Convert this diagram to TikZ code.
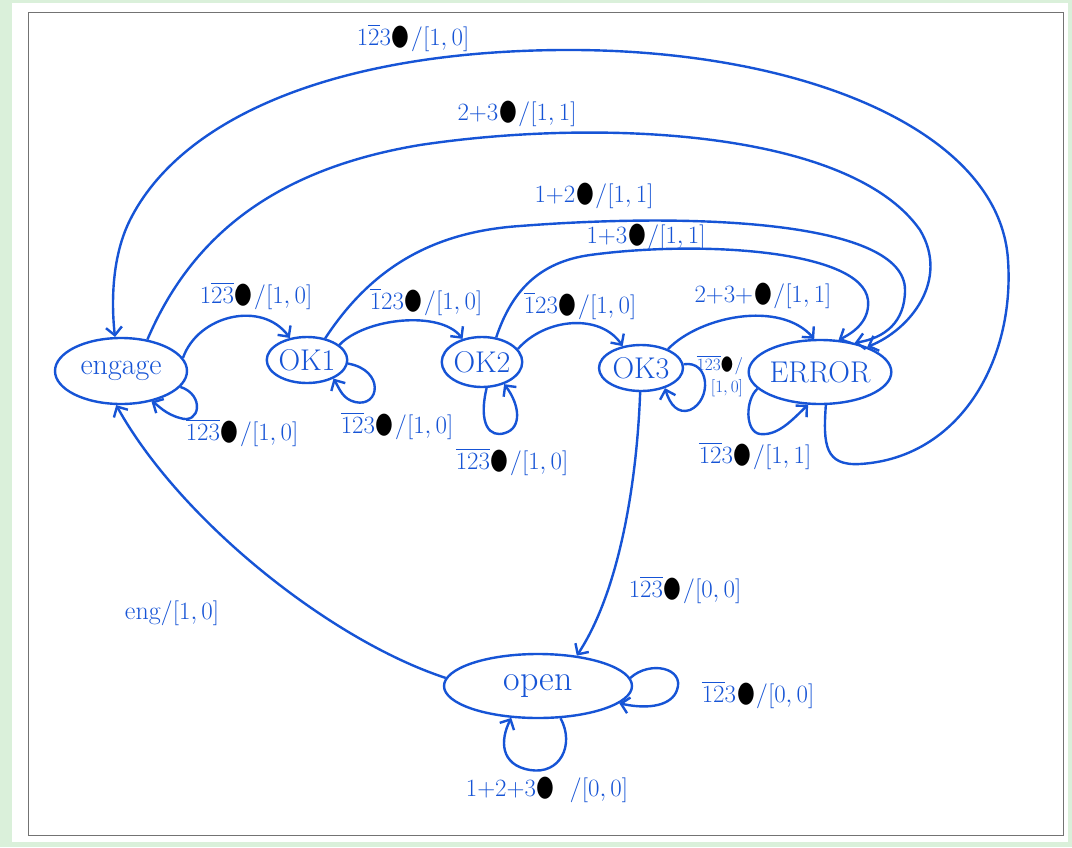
\documentclass[tikz,border=0pt]{standalone}
\usepackage{amsmath, amssymb}
\usetikzlibrary{arrows.meta, shapes.geometric}
\definecolor{pen}{RGB}{22,84,214}
\definecolor{paper}{RGB}{218,240,218}
\newcommand{\blot}{{\color{black}\raisebox{-0.22em}{\scalebox{1.6}[2.3]{$\bullet$}}}}
\newcommand{\nb}[1]{\overline{#1}}

\begin{document}
\begin{tikzpicture}[x=1pt, y=-1pt,
  stnode/.style={draw=pen, line width=2.4pt, ellipse, text=pen, inner sep=0pt,
                 font=\fontsize{30}{32}\selectfont},
  trans/.style={draw=pen, line width=2.4pt, -{Straight Barb[length=8pt,width=16pt]}},
  lbl/.style={text=pen, inner sep=1pt, font=\fontsize{26}{28}\selectfont}]
\useasboundingbox (0,0) rectangle (1072,847);
\fill[paper] (0,0) rectangle (1072,847);
\fill[white] (12,3) rectangle (1068,842);
\draw[black!55, line width=1pt] (28,12) rectangle (1063,835);
% states {{{
\node[stnode, minimum width=132, minimum height=66] (engage) at (121,371) {engage} ;
\node[stnode, minimum width=80, minimum height=46] (ok1) at (307,360) {OK1} ;
\node[stnode, minimum width=76, minimum height=50] (ok2) at (482,362) {OK2} ;
\node[stnode, minimum width=84, minimum height=46] (ok3) at (641,368) {OK3} ;
\node[stnode, minimum width=114, minimum height=64] (error) at (820,372) {ERROR} ;
\node[stnode, minimum width=188, minimum height=64, font=\fontsize{36}{38}\selectfont] (open) at (538,686) {open} ;
% }}}
% chain engage -> OK1 -> OK2 -> OK3 -> ERROR {{{
\draw[trans] (engage.12) .. controls (198,315) and (262,300) .. (ok1.128);
\node[lbl] (l01) at (256,296) {$1\nb2\nb3$\blot$/[1,0]$} ;
\draw[trans] (ok1.25) .. controls (365,318) and (440,310) .. (ok2.130);
\node[lbl] (l12) at (426,302) {$\nb1 23$\blot$/[1,0]$} ;
\draw[trans] (ok2.20) .. controls (545,318) and (600,313) .. (ok3.130);
\node[lbl] (l23) at (580,306) {$\nb1 23$\blot$/[1,0]$} ;
\draw[trans] (ok3.35) .. controls (700,316) and (780,300) .. (error.100);
\node[lbl] (l3e) at (763,296) {$2{+}3{+}$\blot$/[1,1]$} ;
% }}}
% long arcs into ERROR {{{
\draw[trans] (ok1.50) .. controls (370,270) and (430,232) .. (520,226)
  .. controls (700,212) and (905,222) .. (905,290)
  .. controls (905,322) and (885,338) .. (error.40);
\node[lbl] (l1e) at (594,196) {$1{+}2$\blot$/[1,1]$} ;
\draw[trans] (ok2.60) .. controls (512,290) and (540,262) .. (590,255)
  .. controls (700,240) and (862,250) .. (868,300)
  .. controls (870,320) and (855,332) .. (error.60);
\node[lbl] (l2e) at (646,237) {$1{+}3$\blot$/[1,1]$} ;
\draw[trans] (engage.50) .. controls (190,240) and (270,170) .. (420,145)
  .. controls (600,118) and (850,130) .. (920,230)
  .. controls (950,280) and (910,330) .. (error.28);
\node[lbl] (lee) at (517,114) {$2{+}3$\blot$/[1,1]$} ;
% }}}
% ERROR -> engage, outer arc {{{
\draw[trans] (error.-80) .. controls (823,445) and (825,466) .. (860,464)
  .. controls (960,458) and (1015,360) .. (1008,260)
  .. controls (1000,130) and (800,48) .. (560,50)
  .. controls (330,52) and (180,120) .. (130,220)
  .. controls (110,260) and (112,310) .. (engage.100);
\node[lbl] (ltop) at (413,38) {$1\nb2 3$\blot$/[1,0]$} ;
% }}}
% open {{{
\draw[trans] (ok3.-92) .. controls (637,480) and (620,590) .. (open.38);
\node[lbl] (l3o) at (685,590) {$1\nb2\nb3$\blot$/[0,0]$} ;
\draw[trans] (open.175) .. controls (330,640) and (180,520) .. (engage.-98);
\node[lbl] (loe) at (172,613) {eng$/[1,0]$} ;
% }}}
% self loops {{{
\draw[trans] (engage.-15) .. controls (205,395) and (200,425) .. (180,418)
  .. controls (165,414) and (158,405) .. (engage.-45);
\node[lbl] (lee0) at (242,433) {$\nb1\nb2\nb3$\blot$/[1,0]$} ;
\draw[trans] (ok1.-5) .. controls (385,370) and (380,408) .. (355,402)
  .. controls (343,399) and (340,390) .. (ok1.-35);
\node[lbl] (l11) at (397,426) {$\nb1\nb2 3$\blot$/[1,0]$} ;
\draw[trans] (ok2.-80) .. controls (478,425) and (490,438) .. (505,433)
  .. controls (522,428) and (520,405) .. (ok2.-45);
\node[lbl] (l22) at (512,462) {$\nb1\nb2\nb3$\blot$/[1,0]$} ;
\draw[trans] (ok3.5) .. controls (710,360) and (712,400) .. (690,410)
  .. controls (678,414) and (670,405) .. (ok3.-40);
\node[lbl, align=right, font=\fontsize{18}{22}\selectfont] (l33) at (720,376) {$\nb1\nb2\nb3$\blot$/$\\$[1,0]$} ;
\draw[trans] (error.-165) .. controls (745,400) and (745,432) .. (760,434)
  .. controls (778,436) and (792,420) .. (error.-110);
\node[lbl] (lerr) at (755,456) {$\nb1\nb2 3$\blot$/[1,1]$} ;
\draw[trans] (open.5) .. controls (650,660) and (685,668) .. (677,690)
  .. controls (672,705) and (650,710) .. (open.-12);
\node[lbl] (lor) at (758,695) {$\nb1\nb2 3$\blot$/[0,0]$} ;
\draw[trans] (open.-55) .. controls (575,745) and (560,775) .. (530,770)
  .. controls (500,765) and (500,740) .. (open.-130);
\node[lbl] (lob) at (547,790) {$1{+}2{+}3$\blot$\;\;/[0,0]$} ;
% }}}
\end{tikzpicture}
\end{document}
